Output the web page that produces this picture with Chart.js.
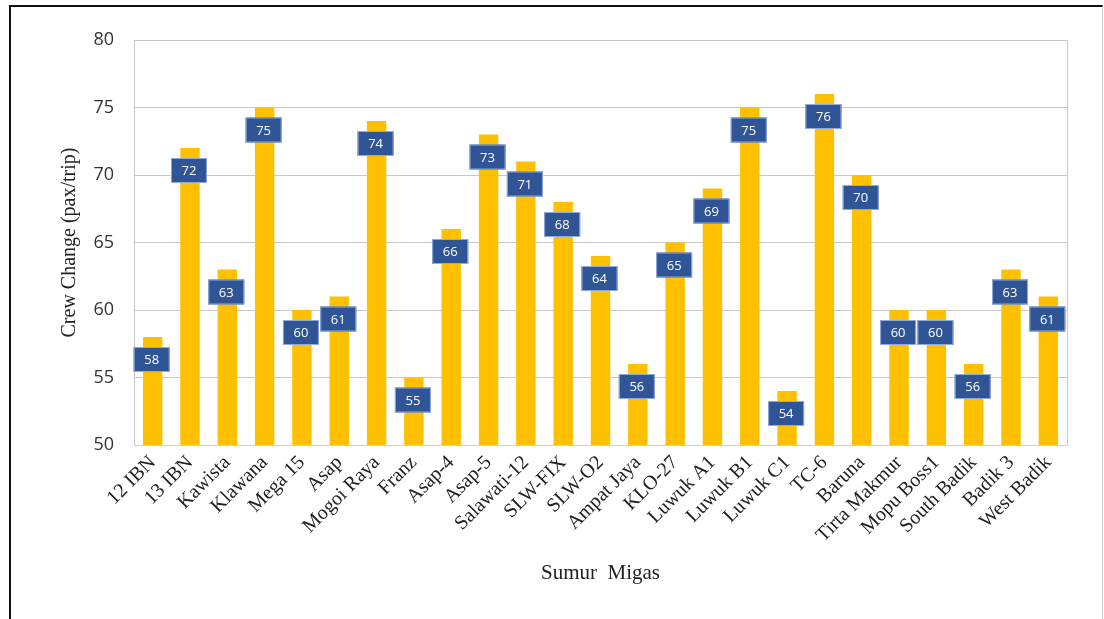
<!DOCTYPE html>
<html>
<head>
<meta charset="utf-8">
<script src="https://cdn.jsdelivr.net/npm/chart.js@4.4.0/dist/chart.umd.min.js"></script>
<style>
  html, body { margin: 0; padding: 0; background: #fff; }
  #wrap { position: relative; width: 1104px; height: 619px; }
  #frame {
    position: absolute; left: 9px; top: 5px; width: 1094px; height: 620px;
    border-left: 2px solid #111; border-top: 2px solid #111; border-right: 1px solid #ccc;
    box-sizing: border-box; pointer-events: none;
  }
</style>
</head>
<body>
<div id="wrap">
  <canvas id="crewChart" width="1104" height="619"></canvas>
  <div id="frame"></div>
</div>
<script>
// Data
const wells = [
  '12 IBN', '13 IBN', 'Kawista', 'Klawana', 'Mega 15', 'Asap', 'Mogoi Raya', 'Franz',
  'Asap-4', 'Asap-5', 'Salawati-12', 'SLW-FIX', 'SLW-O2', 'Ampat Jaya', 'KLO-27',
  'Luwuk A1', 'Luwuk B1', 'Luwuk C1', 'TC-6', 'Baruna', 'Tirta Makmur', 'Mopu Boss1',
  'South Badik', 'Badik 3', 'West Badik'
];
const crewChange = [
  58, 72, 63, 75, 60, 61, 74, 55,
  66, 73, 71, 68, 64, 56, 65,
  69, 75, 54, 76, 70, 60, 60,
  56, 63, 61
];
const yTicks = [50, 55, 60, 65, 70, 75, 80];

// Blue value boxes under the top of each bar
const valueBoxes = {
  id: 'valueBoxes',
  afterDatasetsDraw(chart) {
    const { ctx } = chart;
    const meta = chart.getDatasetMeta(0);
    ctx.save();
    ctx.font = '13px "Open Sans", sans-serif';
    ctx.textAlign = 'center';
    ctx.textBaseline = 'middle';
    meta.data.forEach((bar, i) => {
      const w = 36, h = 25;
      const cx = bar.x - 1;
      const top = bar.y + 10;
      ctx.fillStyle = '#2F5597';
      ctx.fillRect(cx - w / 2, top, w, h);
      ctx.strokeStyle = '#8FAADC';
      ctx.lineWidth = 1;
      ctx.strokeRect(cx - w / 2 + 0.5, top + 0.5, w - 1, h - 1);
      ctx.fillStyle = '#fff';
      ctx.fillText(String(crewChange[i]), cx, top + h / 2 + 1);
    });
    ctx.restore();
  }
};

new Chart(document.getElementById('crewChart'), {
  type: 'bar',
  data: {
    labels: wells,
    datasets: [{
      data: crewChange,
      backgroundColor: '#FFC000',
      barPercentage: 0.52,
      categoryPercentage: 1.0
    }]
  },
  options: {
    responsive: false,
    animation: false,
    layout: { padding: { left: 50, top: 40, right: 37, bottom: 30 } },
    plugins: { legend: { display: false }, tooltip: { enabled: false } },
    scales: {
      x: {
        grid: { display: false, drawTicks: false },
        border: { color: '#D0D0D0' },
        ticks: {
          autoSkip: false, minRotation: 45, maxRotation: 45, padding: 6,
          color: '#222', font: { family: '"Liberation Serif", serif', size: 20 }
        },
        title: {
          display: true, text: 'Sumur  Migas', color: '#222',
          font: { family: '"Liberation Serif", serif', size: 21 },
          padding: { top: 0, bottom: 3 }
        },
        afterFit(s) { s.height = 619 - 30 - 445; }
      },
      y: {
        min: 50, max: 80,
        afterBuildTicks(s) { s.ticks = yTicks.map(v => ({ value: v })); },
        grid: { color: '#C8C8C8', drawTicks: false },
        border: { color: '#C8C8C8' },
        ticks: {
          padding: 20, color: '#333',
          font: { family: '"Open Sans", sans-serif', size: 18 }
        },
        title: {
          display: true, text: 'Crew Change (pax/trip)', color: '#222',
          font: { family: '"Liberation Serif", serif', size: 20 },
          padding: { top: 8, bottom: 0 }
        },
        afterFit(s) { s.width = 84; }
      }
    }
  },
  plugins: [valueBoxes, {
    id: 'plotBorder',
    afterDraw(chart) {
      const a = chart.chartArea, ctx = chart.ctx;
      ctx.save();
      ctx.strokeStyle = '#C8C8C8';
      ctx.lineWidth = 1;
      ctx.beginPath();
      ctx.moveTo(a.right + 0.5, a.top);
      ctx.lineTo(a.right + 0.5, a.bottom);
      ctx.stroke();
      ctx.restore();
    }
  }]
});
</script>
</body>
</html>
